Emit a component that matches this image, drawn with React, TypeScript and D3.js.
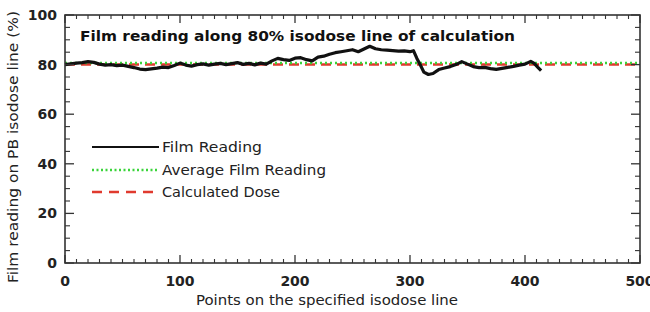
import React from "react";
import * as d3 from "d3";

const filmX = [0,5,10,15,20,25,30,35,40,45,50,55,60,65,70,75,80,85,90,95,100,105,110,115,120,125,130,135,140,145,150,155,160,165,170,175,180,185,190,195,200,205,210,215,220,225,230,235,240,245,250,255,260,265,270,275,280,285,290,295,300,303,306,309,312,316,320,325,330,335,340,345,350,355,360,365,370,375,380,385,390,395,400,405,408,411,414];
const filmY = [80.0,80.3,80.6,80.8,81.2,80.9,80.2,79.8,80.0,79.6,79.8,79.3,78.8,78.2,78.0,78.3,78.6,79.0,78.8,79.6,80.6,79.8,79.4,80.0,80.3,79.8,80.2,80.5,80.0,80.4,80.8,80.1,80.5,79.9,80.6,80.2,81.5,82.5,82.0,81.7,82.6,82.8,82.0,81.5,83.0,83.4,84.2,84.8,85.2,85.6,86.0,85.2,86.3,87.4,86.4,86.0,85.8,85.6,85.4,85.5,85.2,85.6,82.5,79.8,77.0,76.0,76.4,78.0,78.6,79.2,80.0,81.2,80.2,79.2,78.8,78.9,78.4,78.1,78.5,78.9,79.3,79.8,80.2,81.3,80.5,79.0,77.6];
const averageValue = 80.6;
const calculatedValue = 80;
const xTicks = [0, 100, 200, 300, 400, 500];
const yTicks = [0, 20, 40, 60, 80, 100];
const legendLabels = ["Film Reading", "Average Film Reading", "Calculated Dose"];
const title = "Film reading along 80% isodose line of calculation";
const xLabel = "Points on the specified isodose line";
const yLabel = "Film reading on PB isodose line (%)";

export default function App() {
  const W = 650, H = 312;
  const left = 65, right = 640, top = 15, bottom = 263;
  const x = d3.scaleLinear().domain([0, 500]).range([left, right]);
  const y = d3.scaleLinear().domain([0, 100]).range([bottom, top]);
  const line = d3.line<number>().x((_, i) => x(filmX[i])).y((d) => y(d)).curve(d3.curveLinear);
  const xMinor = d3.range(0, 501, 10).filter((v) => v % 100 !== 0);
  const yMinor = d3.range(0, 101, 5).filter((v) => v % 20 !== 0);
  const axisColor = "#333";
  const font = "DejaVu Sans, Verdana, sans-serif";
  const legendY = [147, 170, 192];
  const legendW = [100, 164, 118];
  return (
    <svg width={W} height={H} style={{ position: "absolute", left: 0, top: 0, background: "#fff" }}>
      <rect x={0} y={0} width={W} height={H} fill="#fff" />
      {/* reference lines */}
      <line x1={x(0)} x2={x(500)} y1={y(calculatedValue)} y2={y(calculatedValue)} stroke="#e03a2e" strokeWidth={2.5} strokeDasharray="10,6" />
      <line x1={x(0)} x2={x(500)} y1={y(averageValue)} y2={y(averageValue)} stroke="#3ad43a" strokeWidth={2.5} strokeDasharray="2,3" />
      {/* film reading */}
      <path d={line(filmY) || ""} fill="none" stroke="#111" strokeWidth={3.2} strokeLinejoin="round" />
      {/* frame */}
      <rect x={left} y={top} width={right - left} height={bottom - top} fill="none" stroke={axisColor} strokeWidth={1.6} />
      {/* x ticks */}
      {xTicks.map((v) => (
        <g key={"xt" + v}>
          <line x1={x(v)} x2={x(v)} y1={bottom} y2={bottom - 8} stroke={axisColor} strokeWidth={1.3} />
          <line x1={x(v)} x2={x(v)} y1={top} y2={top + 8} stroke={axisColor} strokeWidth={1.3} />
          <text x={x(v)} y={bottom + 23} textAnchor="middle" fontFamily={font} fontWeight="bold" fontSize={14} fill="#222">{v}</text>
        </g>
      ))}
      {xMinor.map((v) => (
        <g key={"xm" + v}>
          <line x1={x(v)} x2={x(v)} y1={bottom} y2={bottom - 4} stroke={axisColor} strokeWidth={1.1} />
          <line x1={x(v)} x2={x(v)} y1={top} y2={top + 4} stroke={axisColor} strokeWidth={1.1} />
        </g>
      ))}
      {/* y ticks */}
      {yTicks.map((v) => (
        <g key={"yt" + v}>
          <line x1={left} x2={left + 9} y1={y(v)} y2={y(v)} stroke={axisColor} strokeWidth={1.3} />
          <line x1={right} x2={right - 9} y1={y(v)} y2={y(v)} stroke={axisColor} strokeWidth={1.3} />
          <text x={left - 8} y={y(v) + 5} textAnchor="end" fontFamily={font} fontWeight="bold" fontSize={14} fill="#222">{v}</text>
        </g>
      ))}
      {yMinor.map((v) => (
        <g key={"ym" + v}>
          <line x1={left} x2={left + 5} y1={y(v)} y2={y(v)} stroke={axisColor} strokeWidth={1.1} />
          <line x1={right} x2={right - 5} y1={y(v)} y2={y(v)} stroke={axisColor} strokeWidth={1.1} />
        </g>
      ))}
      {/* title */}
      <text x={80} y={41} fontFamily={font} fontWeight="bold" fontSize={14.5} fill="#111" textLength={435} lengthAdjust="spacingAndGlyphs">{title}</text>
      {/* axis labels */}
      <text x={327} y={305} textAnchor="middle" fontFamily={font} fontSize={14} fill="#222" textLength={262} lengthAdjust="spacingAndGlyphs">{xLabel}</text>
      <text transform={`translate(18,${147}) rotate(-90)`} textAnchor="middle" fontFamily={font} fontSize={14} fill="#222" textLength={272} lengthAdjust="spacingAndGlyphs">{yLabel}</text>
      {/* legend */}
      <line x1={92} x2={159} y1={legendY[0]} y2={legendY[0]} stroke="#111" strokeWidth={2} />
      <line x1={92} x2={159} y1={legendY[1]} y2={legendY[1]} stroke="#3ad43a" strokeWidth={2.5} strokeDasharray="2,2.5" />
      <line x1={92} x2={159} y1={legendY[2]} y2={legendY[2]} stroke="#e03a2e" strokeWidth={2.5} strokeDasharray="10,7" />
      {legendLabels.map((l, i) => (
        <text key={l} x={162} y={legendY[i] + 5} fontFamily={font} fontSize={14} fill="#222" textLength={legendW[i]} lengthAdjust="spacingAndGlyphs">{l}</text>
      ))}
    </svg>
  );
}
